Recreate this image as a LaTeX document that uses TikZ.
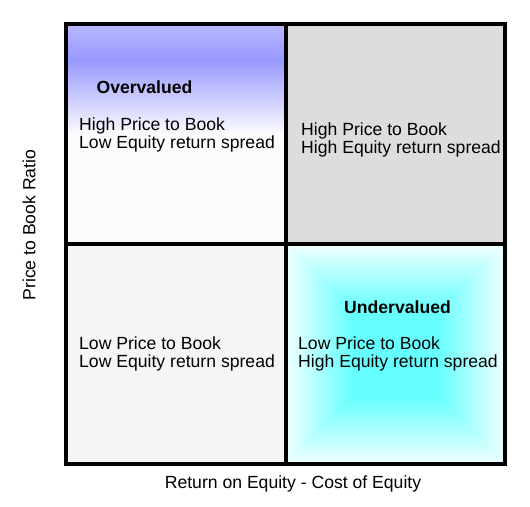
\documentclass[tikz,border=0pt]{standalone}
\usepackage{fontspec}
\setmainfont{Liberation Sans}
\definecolor{tlA}{HTML}{B8B8FF}
\definecolor{tlB}{HTML}{9999FF}
\definecolor{tlW}{HTML}{FCFCFF}
\definecolor{trgrey}{HTML}{DDDDDD}
\definecolor{blgrey}{HTML}{F5F5F5}
\definecolor{aqua}{RGB}{0,255,255}
\definecolor{pure}{RGB}{255,255,255}
\begin{document}
\begin{tikzpicture}[x=1pt,y=1pt,
  lbl/.style={font=\fontsize{17.6}{18}\selectfont, inner sep=0pt, align=left, anchor=west},
  ttl/.style={font=\fontsize{17.6}{18}\selectfont\bfseries, inner sep=0pt},
  axis/.style={font=\fontsize{17.6}{18}\selectfont, inner sep=0pt},
  gridline/.style={line width=3.5pt}]
\useasboundingbox (0,0) rectangle (530,506);
\fill[white] (0,0) rectangle (530,506);
% top-left cell
\fill[tlW] (66,262) rectangle (286,482);
\shade[top color=tlA, bottom color=tlB] (66,446) rectangle (286,482);
\shade[top color=tlB, bottom color=tlW] (66,372) rectangle (286,446);
% top-right cell
\fill[trgrey] (286,262) rectangle (505,482);
% bottom-left cell
\fill[blgrey] (66,42) rectangle (286,262);
% bottom-right cell: rectangular gradient
\foreach \i in {0,...,33}{
  \pgfmathsetmacro{\pct}{6+\i*54/33}
  \fill[aqua!\pct!pure] (286+\i*2,42+\i*2) rectangle (505-\i*2,262-\i*2);
}
% grid
\draw[gridline] (66,42) rectangle (505,482);
\draw[gridline] (286,42) -- (286,482);
\draw[gridline] (66,262) -- (505,262);
% texts
\node[ttl] (over) at (144.5,419) {Overvalued};
\node[lbl] (tl) at (79,371.5) {High Price to Book\\Low Equity return spread};
\node[lbl] (tr) at (301,366.5) {High Price to Book\\High Equity return spread};
\node[lbl] (bl) at (79,152.5) {Low Price to Book\\Low Equity return spread};
\node[ttl] (under) at (397.5,199) {Undervalued};
\node[lbl] (br) at (298,152.5) {Low Price to Book\\High Equity return spread};
\node[axis, rotate=90] (ylab) at (29,281) {Price to Book Ratio};
\node[axis] (xlab) at (293,22) {Return on Equity - Cost of Equity};
\end{tikzpicture}
\end{document}
